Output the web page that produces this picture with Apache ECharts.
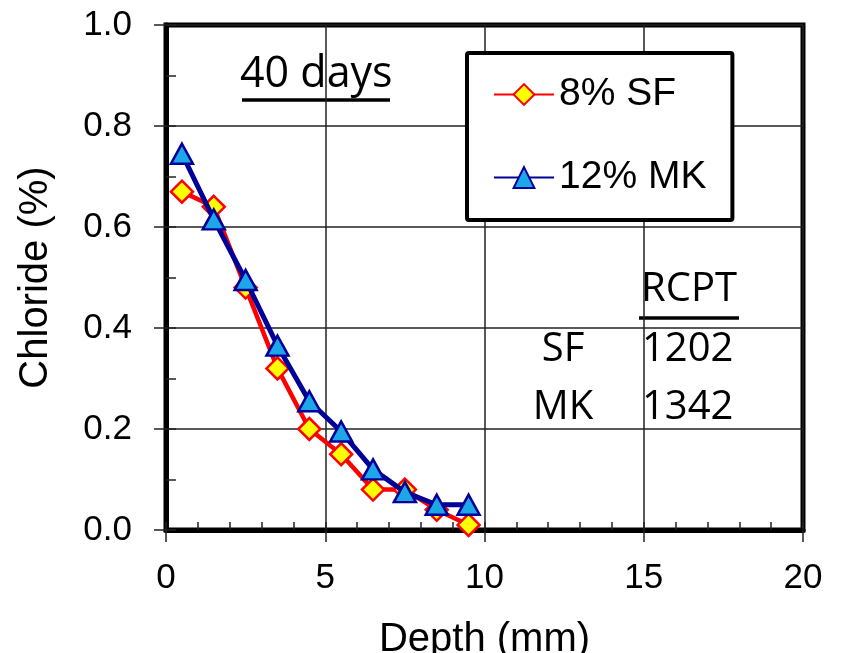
<!DOCTYPE html>
<html><head><meta charset="utf-8">
<script src="https://cdn.jsdelivr.net/npm/echarts@6/dist/echarts.min.js"></script>
<style>html,body{margin:0;padding:0;background:#fff}#c{width:844px;height:653px}</style>
</head><body><div id="c"></div>
<script>
const depth = [0.5,1.5,2.5,3.5,4.5,5.5,6.5,7.5,8.5,9.5];
const sfValues = [0.67,0.64,0.48,0.32,0.20,0.15,0.08,0.08,0.04,0.01];
const mkValues = [0.745,0.615,0.495,0.365,0.255,0.195,0.12,0.075,0.05,0.05];
const seriesNames = ['8% SF','12% MK'];
const xTitle = 'Depth (mm)';
const yTitle = 'Chloride (%)';
const ageLabel = '40 days';
const rcptHeader = 'RCPT';
const rcptRows = [['SF','1202'],['MK','1342']];

const chart = echarts.init(document.getElementById('c'));
const lab = {fontFamily:'Liberation Sans, Arial', fontSize:35, color:'#000'};
const nameStyle = {fontFamily:'Liberation Sans, Arial', fontSize:40, color:'#000'};
const calib = '40px "Open Sans", sans-serif';
chart.setOption({
  animation:false,
  grid:{left:166,right:41,top:25,bottom:123,show:true,borderColor:'#000',borderWidth:5,backgroundColor:'transparent',
        containLabel:false,outerBoundsMode:'none'},
  xAxis:[
    {type:'value',min:0,max:20,interval:5,name:xTitle,nameLocation:'middle',nameGap:90,
     nameTextStyle:nameStyle,axisLabel:Object.assign({margin:31,formatter:v=>String(v)},lab),
     axisLine:{lineStyle:{color:'#000',width:5}},axisTick:{length:12,lineStyle:{color:'#222',width:1.5}},
     splitLine:{show:true,lineStyle:{color:'#222',width:1.5}}},
    {type:'value',min:0,max:20,interval:1,position:'bottom',axisLabel:{show:false},
     axisLine:{show:false},axisTick:{inside:true,length:8,lineStyle:{color:'#222',width:1.5}},splitLine:{show:false}}
  ],
  yAxis:[
    {type:'value',min:0,max:1,interval:0.2,name:yTitle,nameLocation:'middle',nameGap:110,nameRotate:90,
     nameTextStyle:nameStyle,axisLabel:Object.assign({margin:34,formatter:v=>v.toFixed(1)},lab),
     axisLine:{lineStyle:{color:'#000',width:5}},axisTick:{length:12,lineStyle:{color:'#222',width:1.5}},
     splitLine:{show:true,lineStyle:{color:'#222',width:1.5}}},
    {type:'value',min:0,max:1,interval:0.1,position:'left',axisLabel:{show:false},
     axisLine:{show:false},axisTick:{inside:true,length:10,lineStyle:{color:'#222',width:1.5}},splitLine:{show:false}}
  ],
  legend:{orient:'vertical',left:467,top:53,padding:[22,26,23,26],itemGap:44,itemWidth:60,itemHeight:26,
    borderColor:'#000',borderWidth:4,borderRadius:2,backgroundColor:'#fff',
    textStyle:{fontFamily:'Liberation Sans, Arial',fontSize:39,color:'#000',padding:[0,0,0,0]},
    data:seriesNames},
  series:[
    {name:seriesNames[0],type:'line',data:depth.map((d,i)=>[d,sfValues[i]]),
     lineStyle:{color:'#ff0000',width:4.5},symbol:'diamond',symbolSize:[22,22],
     itemStyle:{color:'#ffff00',borderColor:'#ff0000',borderWidth:2.5},z:3},
    {name:seriesNames[1],type:'line',data:depth.map((d,i)=>[d,mkValues[i]]),
     lineStyle:{color:'#000099',width:5},symbol:'triangle',symbolSize:[22,20],
     itemStyle:{color:'#1ea7e8',borderColor:'#000099',borderWidth:2.5},z:4}
  ],
  graphic:[
    {type:'text',left:240,top:53,style:{text:ageLabel,font:'43px "Open Sans", sans-serif',fill:'#000'}},
    {type:'line',shape:{x1:242,y1:100,x2:390,y2:100},style:{stroke:'#000',lineWidth:3.5}},
    {type:'text',left:641,top:270,style:{text:rcptHeader,font:calib,fill:'#000'}},
    {type:'line',shape:{x1:639,y1:318,x2:739,y2:318},style:{stroke:'#000',lineWidth:3.5}},
    {type:'text',x:563,y:370,style:{text:rcptRows[0][0],font:calib,fill:'#000',textAlign:'center',textVerticalAlign:'bottom'}},
    {type:'text',x:642,y:370,style:{text:rcptRows[0][1],font:calib,fill:'#000',textAlign:'left',textVerticalAlign:'bottom'}},
    {type:'text',x:563,y:428,style:{text:rcptRows[1][0],font:calib,fill:'#000',textAlign:'center',textVerticalAlign:'bottom'}},
    {type:'text',x:642,y:428,style:{text:rcptRows[1][1],font:calib,fill:'#000',textAlign:'left',textVerticalAlign:'bottom'}}
  ]
});
</script></body></html>
